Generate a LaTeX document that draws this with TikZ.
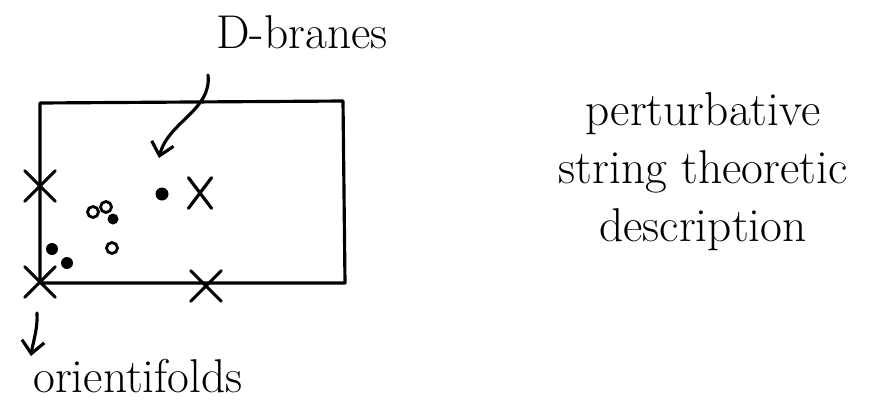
\documentclass[tikz,border=0pt]{standalone}
\usetikzlibrary{arrows.meta,shapes.misc}

\begin{document}
\begin{tikzpicture}[
    x=0.02cm, y=-0.02cm,
    >={Straight Barb[length=2.5mm,width=4.5mm]},
    line width=1.8pt, line cap=round, line join=round,
    every node/.style={font=\fontsize{27}{33}\selectfont, align=center},
    ofold/.style={draw, cross out, minimum size=0.55cm, inner sep=0pt, line width=1.8pt},
    image/.style={draw, cross out, minimum width=0.4cm, minimum height=0.55cm, inner sep=0pt, line width=1.8pt},
    brane/.style={circle, fill, inner sep=0pt, minimum size=0.26cm},
    ring/.style={circle, draw, inner sep=0pt, minimum size=0.22cm, line width=1.6pt}
]
\useasboundingbox (0,0) rectangle (875,403);

% the box
\coordinate (tl) at (40,103);
\coordinate (tr) at (343,101);
\coordinate (br) at (345,283);
\coordinate (bl) at (40,283);
\draw (tl) -- (tr) -- (br) -- (bl) -- cycle;

% orientifold planes
\node[ofold] (of1) at (40,186) {};
\node[ofold] (of2) at (40,282) {};
\node[ofold] (of3) at (206,286) {};
\node[image] (img) at (200,193) {};

% branes
\node[brane] (d1) at (162,194) {};
\node[ring] (d2) at (93,212) {};
\node[ring] (d3) at (106,207) {};
\node[brane, minimum size=0.22cm] (d4) at (113,219) {};
\node[ring] (d5) at (112,248) {};
\node[brane, minimum size=0.24cm] (d6) at (52,249) {};
\node[brane, minimum size=0.24cm] (d7) at (67,263) {};

% labels
\node (dlab) at (302,32) {D-branes};
\node (olab) at (138,376) {orientifolds};
\node (desc) at (703,172) {perturbative\\string theoretic\\description};

\coordinate (dtail) at (208,75);
\coordinate (dhead) at (159,158);
\draw[->] (dtail) .. controls (212,110) and (168,122) .. (dhead);
\coordinate (otail) at (37,313);
\coordinate (ohead) at (31,356);
\draw[->] (otail) .. controls (38,328) and (33,342) .. (ohead);
\end{tikzpicture}
\end{document}
